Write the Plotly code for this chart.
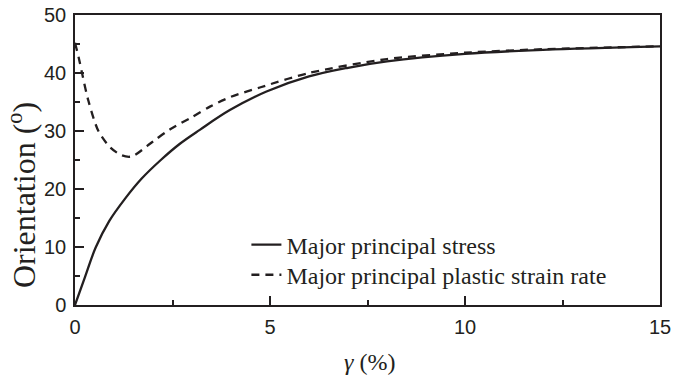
import plotly.graph_objects as go

# Data
gamma_stress = [0, 0.26, 0.53, 0.88, 1.28, 1.71, 2.2, 2.69, 3.2, 3.97, 4.91, 6, 7, 8, 10, 12, 15]
orient_stress = [0, 4.9, 9.9, 14.5, 18.3, 21.8, 25.0, 27.8, 30.2, 33.6, 36.8, 39.4, 40.9, 42.0, 43.3, 44.0, 44.6]

gamma_strain = [0, 0.1, 0.18, 0.34, 0.6, 0.9, 1.2, 1.45, 2.0, 2.44, 3.0, 3.46, 4.0, 4.74, 6, 8, 10, 12, 15]
orient_strain = [45.2, 42.5, 40.0, 35.3, 30.0, 27.2, 25.8, 25.6, 28.2, 30.3, 32.4, 34.2, 35.9, 37.5, 40.0, 42.4, 43.5, 44.1, 44.6]

series_names = ["Major principal stress", "Major principal plastic strain rate"]
x_ticks = [0, 5, 10, 15]
y_ticks = [0, 10, 20, 30, 40, 50]
y_title = "Orientation (<sup>o</sup>)"
x_title = "<i>γ</i> (%)"

ink = "#231f20"
serif = "Liberation Serif, Times New Roman, serif"
sans = "Liberation Sans, Arial, sans-serif"

fig = go.Figure()
fig.add_trace(go.Scatter(x=gamma_stress, y=orient_stress, mode="lines",
                         name=series_names[0], legend="legend",
                         line=dict(color=ink, width=2.3, shape="spline", smoothing=1.0)))
fig.add_trace(go.Scatter(x=gamma_strain, y=orient_strain, mode="lines",
                         name=series_names[1], legend="legend2",
                         line=dict(color=ink, width=2.3, dash="8px,6px", shape="spline", smoothing=0.8)))

axis_common = dict(showline=True, mirror=True, linecolor=ink, linewidth=1.5,
                   ticks="inside", ticklen=9, tickwidth=1.5, tickcolor=ink,
                   showgrid=False, zeroline=False, automargin=False,
                   tickfont=dict(family=sans, size=20, color=ink))

fig.update_xaxes(range=[0, 15], tickvals=x_ticks,
                 minor=dict(ticks="inside", ticklen=5, tickwidth=1.5, tickcolor=ink, dtick=2.5, tick0=0),
                 ticklabelstandoff=3,
                 **axis_common)
fig.update_yaxes(range=[0, 50], tickvals=y_ticks,
                 minor=dict(ticks="inside", ticklen=5, tickwidth=1.5, tickcolor=ink, dtick=5, tick0=0),
                 ticklabelstandoff=3,
                 **axis_common)

fig.add_annotation(text=y_title, xref="paper", yref="paper", x=-0.0906, y=0.379,
                   xanchor="center", yanchor="middle", textangle=-90, showarrow=False,
                   font=dict(family=serif, size=32, color=ink))
fig.add_annotation(text=x_title, xref="paper", yref="paper", x=0.503, y=-0.197,
                   xanchor="center", yanchor="middle", showarrow=False,
                   font=dict(family=serif, size=24, color=ink))

legend_common = dict(xanchor="left", yanchor="middle", bgcolor="rgba(0,0,0,0)",
                     font=dict(family=serif, size=24, color=ink), itemwidth=30)
fig.update_layout(
    width=688, height=380,
    margin=dict(l=75, r=28, t=15, b=75),
    plot_bgcolor="white", paper_bgcolor="white",
    showlegend=True,
    legend=dict(x=0.293, y=0.207, **legend_common),
    legend2=dict(x=0.293, y=0.103, **legend_common),
)

fig.write_html("out.html")
